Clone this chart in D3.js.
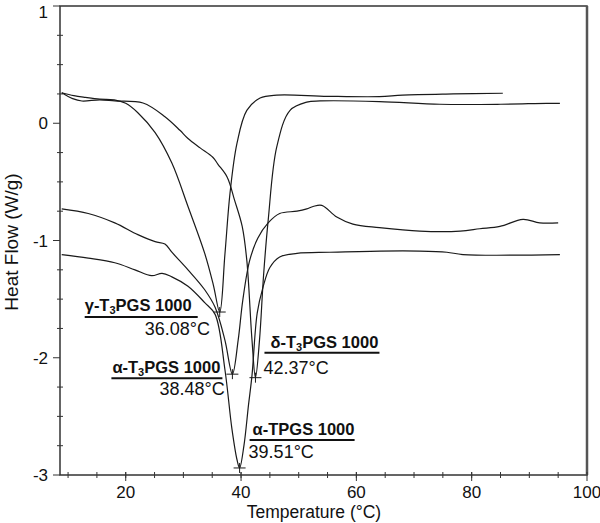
<!DOCTYPE html>
<html>
<head>
<meta charset="utf-8">
<script src="https://cdn.jsdelivr.net/npm/d3@7"></script>
<style>
  body { margin: 0; background: #fff; }
  svg text { font-family: "Liberation Sans", Arial, sans-serif; fill: #111; }
</style>
</head>
<body>
<div id="chart"></div>
<script>
// temperature (°C) / heat flow (W/g) pairs
var gammaT3 = [[8.9,0.26],[11,0.235],[13,0.22],[15.5,0.205],[18,0.2],[20,0.17],[22.1,0.09],[25.1,-0.08],[28.0,-0.34],[30.8,-0.71],[33.7,-1.11],[35.2,-1.38],[36.3,-1.61],[37.2,-1.12],[38.1,-0.59],[39.3,-0.17],[41.0,0.11],[43.3,0.215],[46.2,0.24],[55,0.23],[64,0.227],[68,0.24],[76.8,0.25],[85.4,0.256]];
var deltaT3 = [[8.9,0.26],[10.8,0.21],[12.4,0.19],[15.5,0.2],[18.1,0.19],[23.0,0.173],[26.8,0.056],[29.4,-0.06],[30.8,-0.13],[32.9,-0.21],[35.1,-0.29],[36.0,-0.35],[37.6,-0.46],[38.9,-0.66],[40.2,-0.88],[41.0,-1.17],[41.9,-1.85],[42.5,-2.17],[43.2,-1.85],[43.9,-1.3],[44.7,-0.83],[46.2,-0.2],[48.5,0.11],[51.4,0.18],[53.7,0.19],[64,0.185],[74.5,0.162],[85,0.162],[93,0.17],[95.3,0.17]];
var alphaT3 = [[8.9,-0.73],[13.5,-0.77],[18.1,-0.85],[22.1,-0.95],[25.1,-1.01],[26.8,-1.03],[28.0,-1.10],[30.8,-1.25],[33.7,-1.42],[35.5,-1.57],[37.2,-1.85],[38.5,-2.14],[39.5,-1.85],[40.3,-1.51],[41.5,-1.17],[42.9,-0.98],[44.7,-0.85],[46.7,-0.77],[49.7,-0.75],[51.4,-0.73],[52.5,-0.71],[54.0,-0.70],[56.6,-0.80],[59.4,-0.86],[64,-0.89],[71,-0.92],[78,-0.92],[81.4,-0.90],[84.9,-0.88],[88.9,-0.82],[91.8,-0.85],[95,-0.85]];
var alphaT = [[8.9,-1.12],[13.5,-1.15],[18.1,-1.19],[21.6,-1.25],[24.5,-1.30],[26.3,-1.28],[28.0,-1.31],[30.8,-1.39],[33.7,-1.53],[35.5,-1.63],[37.2,-2.1],[38.4,-2.6],[39.3,-2.87],[39.75,-2.94],[40.5,-2.75],[41.3,-2.4],[41.9,-2.15],[42.8,-1.62],[43.8,-1.40],[45.0,-1.23],[46.7,-1.14],[49.7,-1.11],[55.4,-1.10],[64.1,-1.09],[71,-1.09],[75.7,-1.10],[78.5,-1.12],[95.3,-1.12]];

// peak annotations
var peakNames = ["γ-T|3|PGS 1000", "α-T|3|PGS 1000", "δ-T|3|PGS 1000", "α-TPGS 1000"];
var peakLabels = ["36.08°C", "38.48°C", "42.37°C", "39.51°C"];
var peakT = [36.3, 38.5, 42.5, 39.75];
var peakHF = [-1.61, -2.14, -2.17, -2.94];

var xTicks = [20, 40, 60, 80, 100];
var yTicks = [-3, -2, -1, 0, 1];

var W = 600, H = 523;
var margin = { top: 6, right: 13, bottom: 48, left: 60 };
var width = W - margin.left - margin.right,
    height = H - margin.top - margin.bottom;

var svg = d3.select("#chart").append("svg")
    .attr("width", W)
    .attr("height", H);

var g = svg.append("g")
    .attr("transform", "translate(" + margin.left + "," + margin.top + ")");

var x = d3.scaleLinear().domain([8.6, 100]).range([0, width]);
var y = d3.scaleLinear().domain([-3, 1]).range([height, 0]);

var axisColor = "#333";

// frame
g.append("rect")
    .attr("width", width)
    .attr("height", height)
    .attr("fill", "none")
    .attr("stroke", axisColor)
    .attr("stroke-width", 1.5);
g.append("line")
    .attr("x1", width).attr("x2", width)
    .attr("y1", 0).attr("y2", height)
    .attr("stroke", "#555")
    .attr("stroke-width", 2.5);

// x axis
var xAxis = g.append("g").attr("transform", "translate(0," + height + ")");
xAxis.selectAll(".minor")
    .data(d3.range(10, 100, 5))
    .enter().append("line")
    .attr("x1", x).attr("x2", x)
    .attr("y1", -3).attr("y2", 3)
    .attr("stroke", axisColor);
xAxis.selectAll(".major")
    .data(xTicks)
    .enter().append("line")
    .attr("x1", x).attr("x2", x)
    .attr("y1", -3).attr("y2", 6)
    .attr("stroke", axisColor);
xAxis.selectAll("text")
    .data(xTicks)
    .enter().append("text")
    .attr("x", x)
    .attr("y", 23)
    .attr("text-anchor", "middle")
    .style("font-size", "17px")
    .text(function (d) { return d; });

// y axis
var yAxis = g.append("g");
yAxis.selectAll(".minor")
    .data(d3.range(-2.75, 1, 0.25).filter(function (d) { return d % 1 !== 0; }))
    .enter().append("line")
    .attr("x1", -3).attr("x2", 3)
    .attr("y1", y).attr("y2", y)
    .attr("stroke", axisColor);
yAxis.selectAll(".major")
    .data(yTicks)
    .enter().append("line")
    .attr("x1", -7).attr("x2", 0)
    .attr("y1", y).attr("y2", y)
    .attr("stroke", axisColor);
yAxis.selectAll("text")
    .data(yTicks)
    .enter().append("text")
    .attr("x", -12)
    .attr("y", function (d) { return Math.max(y(d), 6); })
    .attr("dy", "0.36em")
    .attr("text-anchor", "end")
    .style("font-size", "17px")
    .text(function (d) { return d; });

// axis titles
svg.append("text")
    .attr("x", 314)
    .attr("y", 518)
    .attr("text-anchor", "middle")
    .style("font-size", "17.5px")
    .text("Temperature (°C)");
svg.append("text")
    .attr("transform", "translate(18,242) rotate(-90)")
    .attr("text-anchor", "middle")
    .style("font-size", "19px")
    .text("Heat Flow (W/g)");

// curves
var line = d3.line()
    .x(function (d) { return x(d[0]); })
    .y(function (d) { return y(d[1]); })
    .curve(d3.curveCatmullRom.alpha(0.5));

g.selectAll(".curve")
    .data([gammaT3, deltaT3, alphaT3, alphaT])
    .enter().append("path")
    .attr("class", "curve")
    .attr("d", line)
    .attr("fill", "none")
    .attr("stroke", "#1a1a1a")
    .attr("stroke-width", 1.2);

// peak markers
var peaks = peakT.map(function (t, i) { return { t: t, hf: peakHF[i], name: peakNames[i], label: peakLabels[i] }; });

g.selectAll(".mark-h")
    .data(peaks)
    .enter().append("line")
    .attr("x1", function (d) { return x(d.t) - 6; })
    .attr("x2", function (d) { return x(d.t) + 6; })
    .attr("y1", function (d) { return y(d.hf); })
    .attr("y2", function (d) { return y(d.hf); })
    .attr("stroke", "#1a1a1a");
g.selectAll(".mark-v")
    .data(peaks)
    .enter().append("line")
    .attr("x1", function (d) { return x(d.t); })
    .attr("x2", function (d) { return x(d.t); })
    .attr("y1", function (d) { return y(d.hf) - 5; })
    .attr("y2", function (d) { return y(d.hf) + 5; })
    .attr("stroke", "#1a1a1a");

// label layout, in pixels relative to each peak marker
var labelLayout = [
    { nameX: -135, nameY: -1, lineX1: -135, lineX2: -22, lineY: 5, valX: -75, valY: 23 },
    { nameX: -120, nameY: -1, lineX1: -121, lineX2: -10, lineY: 4, valX: -73, valY: 21 },
    { nameX: 15, nameY: -30, lineX1: 9, lineX2: 124, lineY: -25, valX: 8, valY: -4 },
    { nameX: 13, nameY: -33, lineX1: 10, lineX2: 115, lineY: -28, valX: 9, valY: -10 }
];

peaks.forEach(function (d, i) {
    var px = x(d.t), py = y(d.hf), L = labelLayout[i];
    var parts = d.name.split("|");
    var t = g.append("text")
        .attr("x", px + L.nameX)
        .attr("y", py + L.nameY)
        .style("font-size", "16.5px")
        .style("font-weight", "bold");
    t.append("tspan").text(parts[0]);
    if (parts.length > 1) {
        t.append("tspan").attr("dy", 3).style("font-size", "11px").text(parts[1]);
        t.append("tspan").attr("dy", -3).text(parts[2]);
    }
    g.append("line")
        .attr("x1", px + L.lineX1).attr("x2", px + L.lineX2)
        .attr("y1", py + L.lineY).attr("y2", py + L.lineY)
        .attr("stroke", "#111")
        .attr("stroke-width", 2);
    g.append("text")
        .attr("x", px + L.valX)
        .attr("y", py + L.valY)
        .style("font-size", "18px")
        .text(d.label);
});
</script>
</body>
</html>
